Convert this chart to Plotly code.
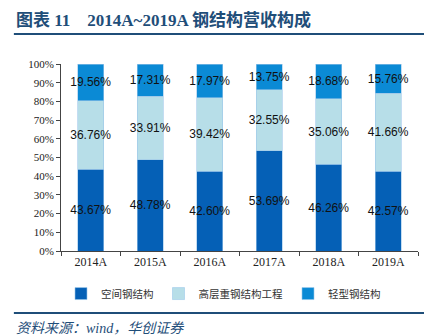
import plotly.graph_objects as go

years = ["2014A", "2015A", "2016A", "2017A", "2018A", "2019A"]
space_steel = [43.67, 48.78, 42.60, 53.69, 46.26, 42.57]
high_rise = [36.76, 33.91, 39.42, 32.55, 35.06, 41.66]
light_steel = [19.56, 17.31, 17.97, 13.75, 18.68, 15.76]
series_names = ["空间钢结构", "高层重钢结构工程", "轻型钢结构"]
colors = ["#0560B6", "#B7DEE8", "#0B8AD5"]

fig = go.Figure()
for name, vals, col in zip(series_names, [space_steel, high_rise, light_steel], colors):
    fig.add_trace(go.Bar(
        x=years, y=vals, name=name,
        marker=dict(color=col, line=dict(color="#9CC7EA", width=0.6)),
        text=[f"{v:.2f}%" for v in vals],
        textposition="inside", insidetextanchor="middle",
        textangle=0, constraintext="none",
        textfont=dict(family="Liberation Sans, Arial", size=12, color="#111111"),
        cliponaxis=False,
    ))

serif = "Liberation Serif, Times New Roman, Noto Sans CJK SC"
fig.update_layout(
    barmode="stack",
    bargap=0.56,
    width=424, height=336,
    margin=dict(l=61, r=6, t=64, b=85),
    paper_bgcolor="white", plot_bgcolor="white",
    showlegend=True,
    legend=dict(orientation="h", x=0.0, y=-0.15, xanchor="left", yanchor="top",
                font=dict(family="Noto Sans CJK SC", size=10.5, color="#333333"),
                itemwidth=30, tracegroupgap=0, traceorder="normal"),
    xaxis=dict(showline=True, linecolor="#444444", linewidth=1,
               ticks="outside", tickson="boundaries", ticklen=4, tickcolor="#444444",
               tickfont=dict(family=serif, size=12, color="#222222")),
    yaxis=dict(range=[0, 100], dtick=10, ticksuffix="%", showgrid=False,
               showline=True, linecolor="#444444", linewidth=1,
               ticks="outside", ticklen=4, tickcolor="#444444",
               tickfont=dict(family=serif, size=11, color="#222222")),
)

fig.add_annotation(xref="paper", yref="paper", x=-0.132, y=1.235, xanchor="left", yanchor="middle",
                   text="<b>图表 11    2014A~2019A 钢结构营收构成</b>", showarrow=False,
                   font=dict(family=serif, size=17, color="#1F4E79"))
fig.add_shape(type="line", xref="paper", yref="paper", x0=-0.132, x1=1.017, y0=1.16, y1=1.16,
              line=dict(color="#1F4E79", width=2))
fig.add_shape(type="line", xref="paper", yref="paper", x0=-0.132, x1=1.017, y0=-0.332, y1=-0.332,
              line=dict(color="#1F4E79", width=2))
fig.add_annotation(xref="paper", yref="paper", x=-0.132, y=-0.412, xanchor="left", yanchor="middle",
                   text="<i>资料来源：wind，华创证券</i>", showarrow=False,
                   font=dict(family=serif, size=14, color="#1F4E79"))

fig.write_html("out.html")
